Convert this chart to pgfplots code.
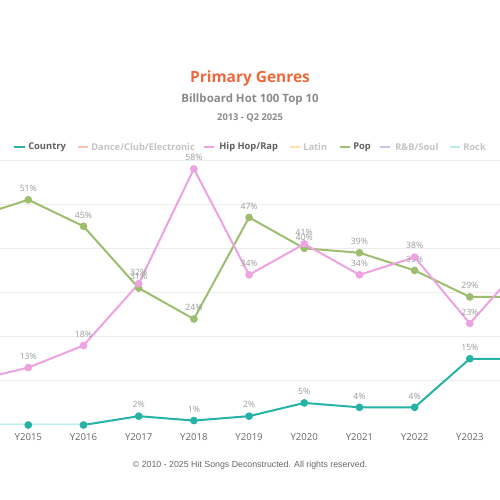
\documentclass[border=0pt]{standalone}
\usepackage{pgfplots}
\pgfplotsset{compat=1.18}
\usepackage{fontspec}
\setmainfont{Open Sans}
\newfontfamily\arial{Liberation Sans}
\definecolor{cCountry}{HTML}{26B2A4}
\definecolor{cHip}{HTML}{EDA3E2}
\definecolor{cPop}{HTML}{9CBE6E}
\definecolor{cDance}{HTML}{F8C3B2}
\definecolor{cLatin}{HTML}{FBE6A6}
\definecolor{cRnb}{HTML}{D3BDE8}
\definecolor{cRock}{HTML}{BDEDEA}
\definecolor{cTitle}{HTML}{F0683A}
\definecolor{cSub}{HTML}{8A8A8A}
\definecolor{cLab}{HTML}{9A9A9A}
\definecolor{cTick}{HTML}{666666}
\definecolor{cLeg}{HTML}{5F5F5F}
\definecolor{cLegOff}{HTML}{C4C4C4}
\definecolor{cGrid}{HTML}{EDEDED}
\newcommand\pc{\%}
\begin{document}
\begin{tikzpicture}
\begin{axis}[
  at={(0pt,56.25pt)}, anchor=south west,
  scale only axis, width=375pt, height=198.75pt,
  xmin=0.487, xmax=9.547, ymin=0, ymax=60,
  xtick={1,2,3,4,5,6,7,8,9},
  xticklabels={Y2015,Y2016,Y2017,Y2018,Y2019,Y2020,Y2021,Y2022,Y2023},
  ytick={10,20,30,40,50,60}, yticklabels={},
  ymajorgrids, grid style={cGrid, line width=0.6pt},
  axis line style={draw=none}, major tick length=0pt,
  ticklabel style={font=\fontsize{7.2}{8}\selectfont, text=cTick},
  xticklabel style={yshift=-2.8pt},
  point meta=explicit symbolic,
  nodes near coords={\pgfplotspointmeta},
  every node near coord/.append style={font=\fontsize{6.5}{7}\selectfont, text=cLab, anchor=south, yshift=2pt},
  mark size=2.1pt,
]
\addplot[cPop, line width=1.5pt, mark=*, mark options={fill=cPop}] table[x=x,y=y,meta=l] {
x y l
0 47 {}
1 51 51\pc
2 45 45\pc
3 31 31\pc
4 24 24\pc
5 47 47\pc
6 40 40\pc
7 39 39\pc
8 35 35\pc
9 29 29\pc
10 29 {}
};
\addplot[cHip, line width=1.5pt, mark=*, mark options={fill=cHip}] table[x=x,y=y,meta=l] {
x y l
0 10 {}
1 13 13\pc
2 18 18\pc
3 32 32\pc
4 58 58\pc
5 34 34\pc
6 41 41\pc
7 34 34\pc
8 38 38\pc
9 23 23\pc
10 37 {}
};
\addplot[cCountry, line width=1.5pt, mark=*, mark options={fill=cCountry}] table[x=x,y=y,meta=l] {
x y l
0 0 {}
1 0 {}
2 0 {}
3 2 2\pc
4 1 1\pc
5 2 2\pc
6 5 5\pc
7 4 4\pc
8 4 4\pc
9 15 15\pc
10 15 {}
};
\draw[cRock, line width=0.8pt] (axis cs:0.487,0) -- (axis cs:2,0);
\end{axis}
\begin{scope}[x=0.75pt,y=0.75pt]
\node[font=\bfseries\fontsize{11.6}{14}\selectfont, text=cTitle] at (250,421.5) {Primary Genres};
\node[font=\bfseries\fontsize{8.6}{10}\selectfont, text=cSub] at (250,400.5) {Billboard Hot 100 Top 10};
\node[font=\bfseries\fontsize{7}{8}\selectfont, text=cSub] at (250,382) {2013 - Q2 2025};
\node[font=\arial\fontsize{6.6}{8}\selectfont, text=cTick] at (250,35) {© 2010 - 2025 Hit Songs Deconstructed. All rights reserved.};
% legend
\begin{scope}[every node/.style={anchor=west, inner sep=0pt, font=\bfseries\fontsize{7}{8}\selectfont}]
\draw[cCountry, line width=1.3pt] (14,353) -- (25,353);
\node[text=cLeg] at (28,353) {Country};
\draw[cDance, line width=1.3pt] (78,353) -- (88,353);
\node[text=cLegOff] at (91,353) {Dance/Club/Electronic};
\draw[cHip, line width=1.3pt] (204,353) -- (214,353);
\node[text=cLeg] at (219,353) {Hip Hop/Rap};
\draw[cLatin, line width=1.3pt] (290,353) -- (300,353);
\node[text=cLegOff] at (303,353) {Latin};
\draw[cPop, line width=1.3pt] (340,353) -- (350,353);
\node[text=cLeg] at (353,353) {Pop};
\draw[cRnb, line width=1.3pt] (380,353) -- (390,353);
\node[text=cLegOff] at (395,353) {R\&B/Soul};
\draw[cRock, line width=1.3pt] (450,353) -- (460,353);
\node[text=cLegOff] at (463,353) {Rock};
\end{scope}
\end{scope}
\pgfresetboundingbox
\useasboundingbox (0,0) rectangle (375pt,375pt);
\end{tikzpicture}
\end{document}
